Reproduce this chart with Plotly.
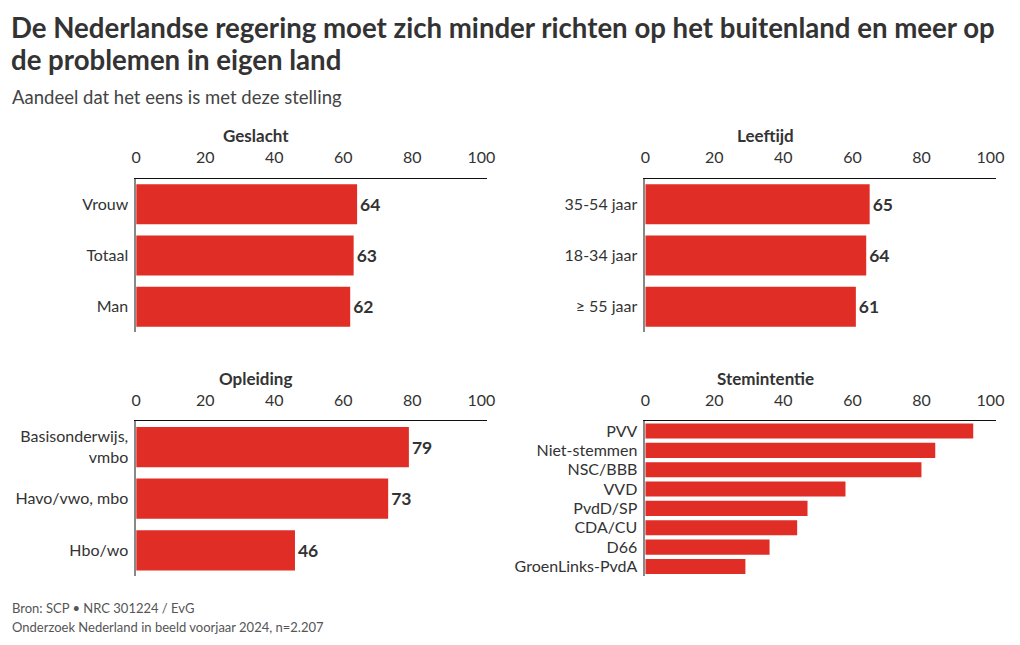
import plotly.graph_objects as go

# ---- data ----
geslacht_cats = ["Vrouw", "Totaal", "Man"]
geslacht_vals = [64, 63, 62]

leeftijd_cats = ["35-54 jaar", "18-34 jaar", "≥ 55 jaar"]
leeftijd_vals = [65, 64, 61]

opleiding_cats = ["Basisonderwijs,<br>vmbo", "Havo/vwo, mbo", "Hbo/wo"]
opleiding_vals = [79, 73, 46]

stem_cats = ["PVV", "Niet-stemmen", "NSC/BBB", "VVD", "PvdD/SP", "CDA/CU", "D66", "GroenLinks-PvdA"]
stem_vals = [95, 84, 80, 58, 47, 44, 36, 29]

tick_vals = [0, 20, 40, 60, 80, 100]

title_l1 = "De Nederlandse regering moet zich minder richten op het buitenland en meer op"
title_l2 = "de problemen in eigen land"
subtitle = "Aandeel dat het eens is met deze stelling"
panel_titles = ["Geslacht", "Leeftijd", "Opleiding", "Stemintentie"]
footer_l1 = "Bron: SCP • NRC 301224 / EvG"
footer_l2 = "Onderzoek Nederland in beeld voorjaar 2024, n=2.207"

# ---- style ----
FONT = "Source Sans Pro, Lato, sans-serif"
RED = "#e02e27"
TXT = "#333333"
W, H = 1020, 645


def px_x(p):
    # compensate for slight horizontal scaling of the captured page
    return ((p - 3.6) / 0.988) / W


def px_y(p):
    return 1 - p / H


fig = go.Figure()

panels = [
    (geslacht_cats, geslacht_vals, True, 135, 486, 178, 332, 255),
    (leeftijd_cats, leeftijd_vals, True, 645, 996, 178, 332, 765),
    (opleiding_cats, opleiding_vals, True, 135, 486, 421, 576, 255),
    (stem_cats, stem_vals, False, 645, 996, 421, 576, 765),
]

for i, (cats, vals, show_text, x0, x1, y0, y1, tx) in enumerate(panels):
    n = i + 1
    xa = "x" if n == 1 else f"x{n}"
    ya = "y" if n == 1 else f"y{n}"
    fig.add_trace(go.Bar(
        x=vals, y=cats, orientation="h",
        marker=dict(color=RED, line=dict(width=0)),
        text=[str(v) for v in vals] if show_text else None,
        textposition="outside" if show_text else "none",
        textfont=dict(family=FONT, size=17.5, color=TXT, weight="bold"),
        cliponaxis=False,
        xaxis=xa, yaxis=ya,
        hoverinfo="skip",
    ))
    xkey = "xaxis" if n == 1 else f"xaxis{n}"
    ykey = "yaxis" if n == 1 else f"yaxis{n}"
    fig.layout[xkey] = dict(
        domain=[px_x(x0), px_x(x1)], range=[0, 101.5],
        anchor=ya, side="top", showgrid=False, zeroline=False,
        showline=True, linecolor="#111111", linewidth=1,
        tickvals=tick_vals, ticks="", ticklabelstandoff=8,
        tickfont=dict(family=FONT, size=16, color=TXT), fixedrange=True,
    )
    fig.layout[ykey] = dict(
        domain=[px_y(y1), px_y(y0)], anchor=xa,
        autorange="reversed", type="category",
        showgrid=False, zeroline=False,
        showline=True, linecolor="#888888", linewidth=1.5,
        ticks="", ticklabelstandoff=3,
        tickfont=dict(family=FONT, size=16, color=TXT), fixedrange=True,
    )
    fig.add_annotation(
        text=f"<b>{panel_titles[i]}</b>", xref="paper", yref="paper",
        x=px_x(tx), y=px_y(y0 - 43),
        xanchor="center", yanchor="middle", showarrow=False,
        font=dict(family=FONT, size=17, color=TXT),
    )

fig.update_layout(bargap=0.22)

annos = [
    (f"<b>{title_l1}</b>", 27, 27.6, "#333333", 8),
    (f"<b>{title_l2}</b>", 59, 27.6, "#333333", 8),
    (subtitle, 96, 18.5, "#444444", 9),
    (footer_l1, 608, 13, "#555555", 9),
    (footer_l2, 627, 13, "#555555", 9),
]
for txt, yc, sz, col, xl in annos:
    fig.add_annotation(
        text=txt, xref="paper", yref="paper", x=px_x(xl), y=px_y(yc),
        xanchor="left", yanchor="middle", showarrow=False,
        font=dict(family=FONT, size=sz, color=col),
    )

fig.update_layout(
    width=W, height=H, margin=dict(l=0, r=0, t=0, b=0),
    paper_bgcolor="white", plot_bgcolor="white",
    showlegend=False, font=dict(family=FONT, color=TXT),
)

fig.write_html(
    "out.html",
    config={"displayModeBar": False},
    post_script="document.body.style.margin='0';document.body.style.overflow='hidden';",
)
